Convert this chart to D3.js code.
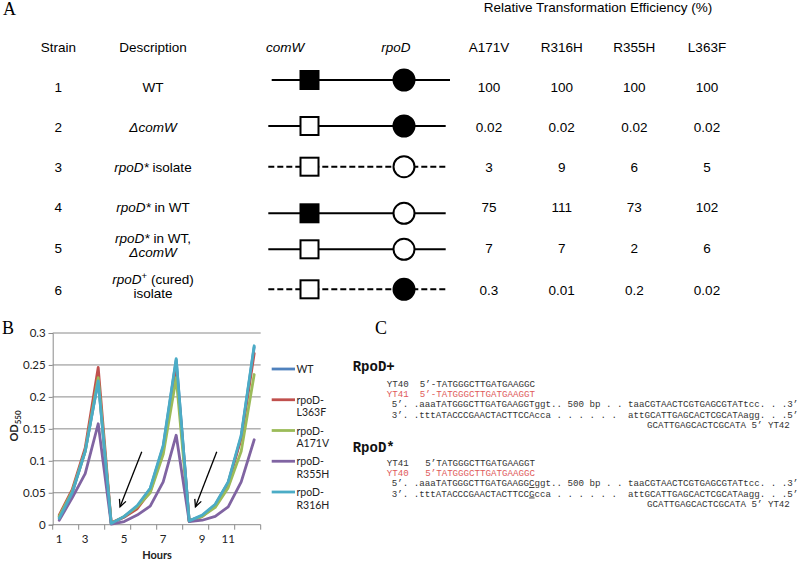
<!DOCTYPE html>
<html><head><meta charset="utf-8">
<script src="https://cdn.jsdelivr.net/npm/d3@7"></script>
<style>body{margin:0;background:#fff}svg{display:block}</style>
</head><body><svg id="c" width="800" height="561"></svg>
<script>
// ---------- DATA ----------
// Panel A table
const strains = ["1","2","3","4","5","6"];
const mutants = ["A171V","R316H","R355H","L363F"];
const effA171V = ["100","0.02","3","75","7","0.3"];
const effR316H = ["100","0.02","9","111","7","0.01"];
const effR355H = ["100","0.02","6","73","2","0.2"];
const effL363F = ["100","0.02","5","102","6","0.02"];
const comWFilled = [true,false,false,true,false,false];
const rpoDFilled = [true,true,false,false,false,true];
const dashedRow  = [false,false,true,false,false,true];
// description segments: [text, style] style 0 normal, 1 italic, 2 superscript
const descriptions = [
  [[["WT",0]]],
  [[["\u0394comW",1]]],
  [[["rpoD*",1],[" isolate",0]]],
  [[["rpoD*",1],[" in WT",0]]],
  [[["rpoD*",1],[" in WT,",0]],[["\u0394comW",1]]],
  [[["rpoD",1],["+",2],[" (cured)",0]],[["isolate",0]]]
];
// Panel B growth curves (OD550)
const hourLabels = ["1","","3","","","5","","","7","","","9","","11","",""];
const seriesNames = ["WT","rpoD-L363F","rpoD-A171V","rpoD-R355H","rpoD-R316H"];
const odWT    = [0.012,0.050,0.115,0.225,0.002,0.012,0.028,0.056,0.122,0.258,0.006,0.014,0.031,0.066,0.138,0.278];
const odL363F = [0.015,0.055,0.120,0.246,0.003,0.012,0.025,0.052,0.118,0.248,0.006,0.013,0.030,0.065,0.135,0.268];
const odA171V = [0.013,0.052,0.115,0.230,0.002,0.013,0.028,0.050,0.110,0.230,0.005,0.013,0.027,0.058,0.115,0.235];
const odR355H = [0.007,0.042,0.080,0.158,0.001,0.005,0.015,0.029,0.067,0.140,0.005,0.007,0.013,0.028,0.067,0.133];
const odR316H = [0.010,0.050,0.115,0.225,0.002,0.013,0.030,0.057,0.124,0.260,0.006,0.015,0.032,0.067,0.140,0.280];
const yTicks = [0,0.05,0.1,0.15,0.2,0.25,0.3];
const arrowFrom = [[6.35,0.114],[12.12,0.114]];
const arrowTo   = [[4.68,0.028],[10.48,0.028]];
// Panel C sequences
const seqPlus = [
  ["YT40  5'-TATGGGCTTGATGAAGGC",0],
  ["YT41  5'-TATGGGCTTGATGAAGGT",1],
];
const seqStar = [
  ["YT41   5'TATGGGCTTGATGAAGGT",0],
  ["YT40   5'TATGGGCTTGATGAAGGC",1],
];
const topPlus = "5'. .aaaTATGGGCTTGATGAAGGTggt.. 500 bp . . taaCGTAACTCGTGAGCGTATtcc. . .3'";
const botPlus = "3'. .tttATACCCGAACTACTTCCAcca . . . . . .  attGCATTGAGCACTCGCATAagg. . .5'";
const topStar = "5'. .aaaTATGGGCTTGATGAAGGCggt.. 500 bp . . taaCGTAACTCGTGAGCGTATtcc. . .3'";
const botStar = "3'. .tttATACCCGAACTACTTCCGcca . . . . . .  attGCATTGAGCACTCGCATAagg. . .5'";
const primerYT42 = "GCATTGAGCACTCGCATA 5' YT42";

// ---------- DRAW ----------
const svg = d3.select("#c");
const SANS = "'Liberation Sans', Arial, sans-serif";
const SERIF = "'Liberation Serif', 'Times New Roman', serif";
const MONO = "'Courier New', 'Liberation Mono', monospace";
const CAL = "Lato, 'Open Sans', sans-serif";
const nb = s => s.replace(/ /g,"\u00A0").replace(/'/g,"\u2019");

// panel letters
[["A",3,15],["B",2,334],["C",375,334]].forEach(([t,x,y])=>{
  svg.append("text").attr("x",x).attr("y",y).attr("font-family",SERIF).attr("font-size",18).text(t);
});

// ---- Panel A ----
const gA = svg.append("g").attr("font-family",SANS).attr("font-size",13.5).attr("fill","#000");
const effX = d3.scalePoint().domain(mutants).range([489,707]);
const strainX = 58.3, descX = 153, comWX = 285, rpoDX = 396;
const headerY = 51.7;
const rowBase = [91.7,131.7,171.7,211.7,253,295];
const descBase = [[91.7],[131.7],[171.7],[211.7],[243,257],[284,297.5]];
const diagY = [80,126,166.7,213.3,249.3,289.3];
const lineX0 = [271.7,268.3,268.3,268.3,268.3,268.3];
const lineX1 = [450,445.7,445.7,445.7,445.7,445.7];
const sqX = 309.5, circX = 404;

gA.append("text").attr("x",598).attr("y",11.5).attr("text-anchor","middle").text("Relative Transformation Efficiency (%)");
gA.append("text").attr("x",strainX).attr("y",headerY).attr("text-anchor","middle").text("Strain");
gA.append("text").attr("x",descX).attr("y",headerY).attr("text-anchor","middle").text("Description");
gA.append("text").attr("x",comWX).attr("y",headerY).attr("text-anchor","middle").attr("font-style","italic").text("comW");
gA.append("text").attr("x",rpoDX).attr("y",headerY).attr("text-anchor","middle").attr("font-style","italic").text("rpoD");
mutants.forEach(m=>{
  gA.append("text").attr("x",effX(m)).attr("y",headerY).attr("text-anchor","middle").text(m);
});
const effCols = [effA171V,effR316H,effR355H,effL363F];
strains.forEach((s,i)=>{
  gA.append("text").attr("x",strainX).attr("y",rowBase[i]).attr("text-anchor","middle").text(s);
  descriptions[i].forEach((line,li)=>{
    const t = gA.append("text").attr("x",descX).attr("y",descBase[i][li]).attr("text-anchor","middle");
    line.forEach(([txt,st])=>{
      const ts = t.append("tspan").text(txt.replace(/ /g,"\u00A0"));
      if(st===1) ts.attr("font-style","italic");
      if(st===2) ts.attr("font-size",9.5).attr("baseline-shift","super");
    });
  });
  effCols.forEach((col,j)=>{
    gA.append("text").attr("x",effX(mutants[j])).attr("y",rowBase[i]).attr("text-anchor","middle").text(col[i]);
  });
  // gene diagram
  gA.append("line").attr("x1",lineX0[i]).attr("x2",lineX1[i]).attr("y1",diagY[i]).attr("y2",diagY[i])
    .attr("stroke","#000").attr("stroke-width",2).attr("stroke-dasharray",dashedRow[i]?"6,3":null);
  gA.append("rect").attr("x",sqX-9).attr("y",diagY[i]-9).attr("width",18).attr("height",18)
    .attr("fill",comWFilled[i]?"#000":"#fff").attr("stroke","#000").attr("stroke-width",2);
  gA.append("circle").attr("cx",circX).attr("cy",diagY[i]).attr("r",10.5)
    .attr("fill",rpoDFilled[i]?"#000":"#fff").attr("stroke","#000").attr("stroke-width",2);
});

// ---- Panel B ----
const gB = svg.append("g").attr("font-family",CAL);
const y = d3.scaleLinear().domain([0,0.3]).range([524.7,333]);
const x = d3.scaleLinear().domain([-0.5,15.5]).range([52.7,260.7]);
gB.selectAll("line.grid").data(yTicks.filter(v=>v>0)).join("line")
  .attr("x1",x(-0.5)).attr("x2",x(15.5)).attr("y1",d=>y(d)).attr("y2",d=>y(d))
  .attr("stroke","#8a8a8a").attr("stroke-width",1);
const yAx = gB.append("g").attr("transform",`translate(${x(-0.5)},0)`)
  .call(d3.axisLeft(y).tickValues(yTicks).tickSize(4).tickPadding(3).tickFormat(d=>String(d)));
yAx.select(".domain").attr("stroke","#8a8a8a");
yAx.selectAll(".tick line").attr("stroke","#8a8a8a");
yAx.selectAll("text").attr("font-size",11.5).attr("font-family",CAL).attr("fill","#222");
gB.append("line").attr("x1",x(-0.5)).attr("x2",x(15.5)).attr("y1",y(0)).attr("y2",y(0)).attr("stroke","#8a8a8a");
const tickB = d3.range(-0.5,16,2);
gB.selectAll("line.xt").data(tickB).join("line")
  .attr("x1",d=>x(d)).attr("x2",d=>x(d)).attr("y1",y(0)).attr("y2",y(0)+5).attr("stroke","#8a8a8a");
gB.selectAll("text.xl").data(hourLabels).join("text")
  .attr("x",(d,i)=>x(i)).attr("y",542.5).attr("text-anchor","middle")
  .attr("font-size",11.5).attr("fill","#222").text(d=>d);
gB.append("text").attr("x",157).attr("y",559).attr("text-anchor","middle").attr("font-weight","bold")
  .attr("font-size",11).attr("fill","#222").text("Hours");
const od = gB.append("text").attr("transform","translate(18,426) rotate(-90)").attr("text-anchor","middle")
  .attr("font-weight","bold").attr("font-size",11).attr("fill","#222");
od.append("tspan").text("OD");
od.append("tspan").attr("font-size",8).attr("dy",3).text("550");
const seriesData = [odWT,odL363F,odA171V,odR355H,odR316H];
const colors = ["#4F81BD","#C0504D","#9BBB59","#8064A2","#4BACC6"];
const line = d3.line().x((d,i)=>x(i)).y(d=>y(d));
seriesData.forEach((s,k)=>{
  gB.append("path").attr("d",line(s)).attr("fill","none").attr("stroke",colors[k])
    .attr("stroke-width",2.8).attr("stroke-linejoin","round").attr("stroke-linecap","round");
});
arrowFrom.forEach((f,i)=>{
  const t = arrowTo[i];
  const x1=x(f[0]), y1=y(f[1]), x2=x(t[0]), y2=y(t[1]);
  gB.append("line").attr("x1",x1).attr("y1",y1).attr("x2",x2).attr("y2",y2).attr("stroke","#000").attr("stroke-width",1.3);
  const ang = Math.atan2(y2-y1,x2-x1), L=8, a=0.45;
  const p1=[x2-L*Math.cos(ang-a), y2-L*Math.sin(ang-a)], p2=[x2-L*Math.cos(ang+a), y2-L*Math.sin(ang+a)];
  gB.append("path").attr("d",`M${p1}L${x2},${y2}L${p2}`).attr("fill","none").attr("stroke","#000").attr("stroke-width",1.3);
});
const legY = d3.scalePoint().domain(seriesNames).range([369,492]);
seriesNames.forEach((n,k)=>{
  const ly = legY(n);
  gB.append("line").attr("x1",271.7).attr("x2",295).attr("y1",ly).attr("y2",ly).attr("stroke",colors[k]).attr("stroke-width",2.8);
  const parts = n.includes("-") ? [n.split("-")[0]+"-", n.split("-")[1]] : [n];
  parts.forEach((p,pi)=>{
    gB.append("text").attr("x",296.5).attr("y",ly+4+pi*12.7).attr("font-size",10.5).attr("fill","#222").text(p);
  });
});

// ---- Panel C ----
const gC = svg.append("g").attr("font-family",MONO);
const FS = 9.17, RED = "#e05a5a", INK = "#333";
function block(title, titleY, primers, baseY, top, bot, ul){
  gC.append("text").attr("x",352.7).attr("y",titleY).attr("font-size",14).attr("font-weight","bold").attr("fill","#111").text(title);
  primers.forEach(([t,red],i)=>{
    gC.append("text").attr("x",386.7).attr("y",baseY+i*10).attr("font-size",FS).attr("fill",red?RED:INK).text(nb(t));
  });
  [top,bot].forEach((s,i)=>{
    const t = gC.append("text").attr("x",391.7).attr("y",baseY+20+i*10.5).attr("font-size",FS).attr("fill",INK);
    if(ul==null){ t.text(nb(s)); }
    else {
      t.append("tspan").text(nb(s.slice(0,ul)));
      t.append("tspan").attr("text-decoration","underline").text(s[ul]);
      t.append("tspan").text(nb(s.slice(ul+1)));
    }
  });
  gC.append("text").attr("x",647).attr("y",baseY+41).attr("font-size",FS).attr("fill",INK).text(nb(primerYT42));
}
block("RpoD+",371,seqPlus,387,topPlus,botPlus,null);
block("RpoD*",452,seqStar,466,topStar,botStar,25);
</script></body></html>
